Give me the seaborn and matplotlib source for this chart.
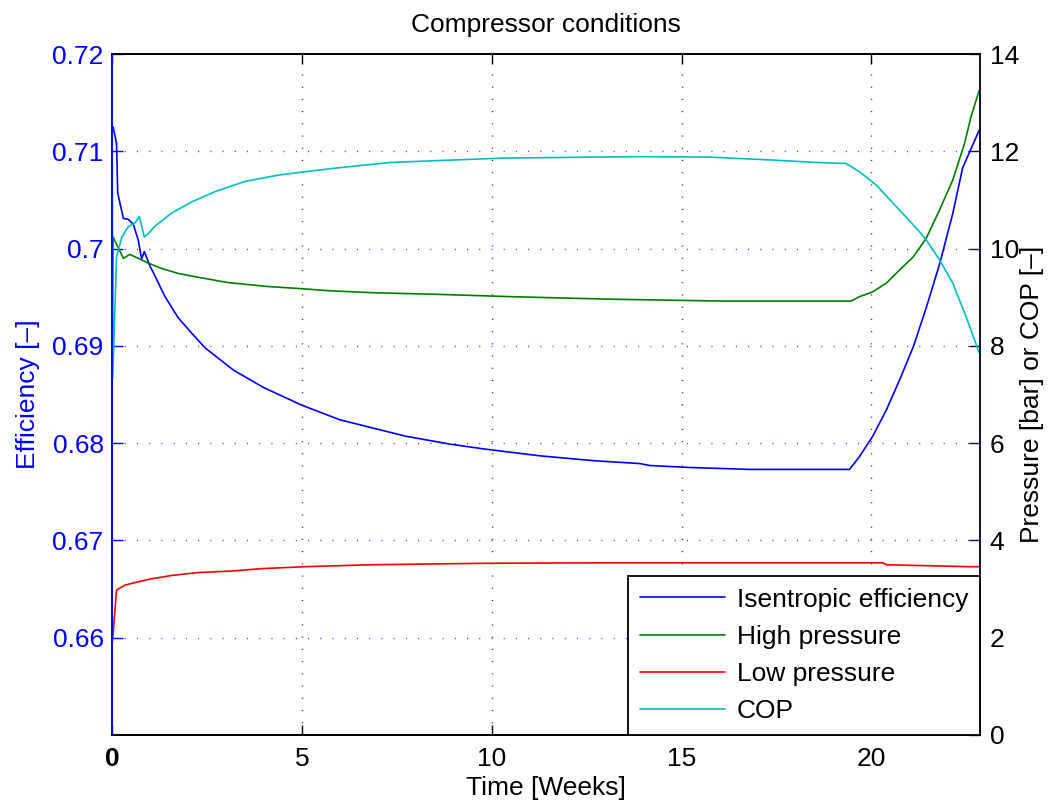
import numpy as np
import pandas as pd
import matplotlib
matplotlib.use("Agg")
import matplotlib.pyplot as plt
import seaborn as sns

# ---------------- data ----------------
eff_t = [0.0, 0.03, 0.12, 0.15, 0.30, 0.43, 0.56, 0.69, 0.78, 0.85, 1.0, 1.13, 1.39, 1.74,
         2.10, 2.45, 3.2, 4.0, 5.0, 6.0, 7.75, 8.9, 9.8, 11.26, 12.67, 13.9, 14.16, 15.2,
         16.8, 19.42, 19.68, 20.03, 20.39, 20.74, 21.1, 21.44, 21.8, 22.14, 22.4, 22.84]
eff_v = [0.7125, 0.7125, 0.7108, 0.7057, 0.7031, 0.7030, 0.7025, 0.7009, 0.6989, 0.6997,
         0.6982, 0.6972, 0.6951, 0.6929, 0.6913, 0.6898, 0.6875, 0.6857, 0.6839, 0.6824,
         0.6807, 0.6799, 0.6794, 0.6787, 0.6782, 0.6779, 0.6777, 0.6775, 0.6773, 0.6773,
         0.6786, 0.6807, 0.6834, 0.6865, 0.6899, 0.6939, 0.6985, 0.7036, 0.7083, 0.7122]

hp_t = [0.0, 0.03, 0.08, 0.17, 0.30, 0.47, 0.69, 0.96, 1.31, 1.74, 2.27, 3.06, 4.11, 4.90,
        5.78, 6.96, 8.54, 10.56, 13.1, 16.09, 19.46, 19.68, 20.03, 20.39, 20.74, 21.1,
        21.44, 21.79, 22.14, 22.45, 22.62, 22.84]
hp_v = [7.3, 10.24, 10.15, 10.01, 9.80, 9.88, 9.80, 9.70, 9.59, 9.49, 9.41, 9.30, 9.22, 9.18,
        9.13, 9.09, 9.06, 9.01, 8.96, 8.92, 8.92, 9.01, 9.11, 9.29, 9.56, 9.83,
        10.21, 10.79, 11.41, 12.16, 12.71, 13.26]

lp_t = [0.0, 0.02, 0.12, 0.34, 0.69, 1.04, 1.57, 2.27, 3.15, 3.94, 5.08, 6.83, 9.82, 12.97,
        20.3, 20.39, 22.58, 22.84]
lp_v = [1.81, 2.0, 2.98, 3.08, 3.15, 3.21, 3.28, 3.34, 3.37, 3.42, 3.46, 3.50, 3.53, 3.54,
        3.54, 3.50, 3.46, 3.46]

cop_t = [0.0, 0.02, 0.12, 0.26, 0.43, 0.61, 0.72, 0.85, 0.96, 1.13, 1.57, 2.10, 2.71, 3.5,
         4.38, 5.08, 5.96, 7.32, 8.63, 10.3, 13.9, 15.74, 17.4, 18.54, 19.33, 19.68, 20.12,
         20.74, 21.26, 21.44, 21.79, 22.14, 22.49, 22.84]
cop_v = [14.6, 7.34, 9.83, 10.24, 10.45, 10.53, 10.66, 10.24, 10.31, 10.46, 10.73, 10.96,
         11.17, 11.38, 11.51, 11.58, 11.66, 11.77, 11.81, 11.86, 11.89, 11.88, 11.82, 11.77,
         11.75, 11.58, 11.31, 10.79, 10.35, 10.18, 9.77, 9.29, 8.60, 7.85]

series_labels = ["Isentropic efficiency", "High pressure", "Low pressure", "COP"]
xticks = [0, 5, 10, 15, 20]
xtick_labels = ["0", "5", "10", "15", "20"]
eff_ticks = [0.66, 0.67, 0.68, 0.69, 0.70, 0.71, 0.72]
eff_tick_labels = ["0.66", "0.67", "0.68", "0.69", "0.7", "0.71", "0.72"]
p_ticks = [0, 2, 4, 6, 8, 10, 12, 14]
p_tick_labels = ["0", "2", "4", "6", "8", "10", "12", "14"]

# ---------------- style ----------------
sns.set_theme(style="white")
plt.rcParams["font.family"] = ["Liberation Sans", "DejaVu Sans"]
plt.rcParams["xtick.direction"] = "in"
plt.rcParams["ytick.direction"] = "in"
plt.rcParams["text.color"] = "black"

FS = 19
BLUE = "#0000ff"
GREEN = "#008000"
RED = "#ff0000"
CYAN = "#00bfbf"
NAVY = "#101040"

fig = plt.figure(figsize=(10.5, 8.05), dpi=100)
ax = fig.add_axes([112 / 1050, 1 - 735 / 805, (980 - 112) / 1050, (735 - 54) / 805])
ax2 = ax.twinx()

df_eff = pd.DataFrame({"t": eff_t, "v": eff_v})
df_hp = pd.DataFrame({"t": hp_t, "v": hp_v})
df_lp = pd.DataFrame({"t": lp_t, "v": lp_v})
df_cop = pd.DataFrame({"t": cop_t, "v": cop_v})

sns.lineplot(data=df_eff, x="t", y="v", ax=ax, color=BLUE, lw=1.2, sort=False,
             estimator=None, legend=False)
sns.lineplot(data=df_hp, x="t", y="v", ax=ax2, color=GREEN, lw=1.2, sort=False,
             estimator=None, legend=False)
sns.lineplot(data=df_lp, x="t", y="v", ax=ax2, color=RED, lw=1.2, sort=False,
             estimator=None, legend=False)
sns.lineplot(data=df_cop, x="t", y="v", ax=ax2, color=CYAN, lw=1.2, sort=False,
             estimator=None, legend=False)

xmax = 160 / 7
ax.set_xlim(0, xmax)
ax.set_ylim(0.65, 0.72)
ax2.set_ylim(0, 14)

ax.set_xticks(xticks)
ax.set_xticklabels(xtick_labels, fontsize=FS, color="black")
ax.get_xticklabels()[0].set_fontweight("bold")
ax.set_yticks(eff_ticks)
ax.set_yticklabels(eff_tick_labels, fontsize=FS, color=BLUE)
ax2.set_yticks(p_ticks)
ax2.set_yticklabels(p_tick_labels, fontsize=FS, color="black")

ax.tick_params(axis="x", which="both", top=True, bottom=True, length=7, width=1,
               color="black", pad=9)
ax.tick_params(axis="y", length=8, width=1, color=BLUE, pad=6)
ax2.tick_params(axis="y", length=8, width=1, color=NAVY, pad=7)

# grid
ax.grid(False)
ax2.grid(False)
for xv in xticks[1:]:
    ax.axvline(xv, color="#333333", lw=1.0, ls=(0, (0.8, 8)), zorder=0)
for yv in eff_ticks[:-1]:
    ax.axhline(yv, color="#4444ff", lw=1.0, ls=(0, (0.8, 8)), zorder=0)

for side in ["top", "bottom", "left", "right"]:
    ax.spines[side].set_visible(True)
    ax2.spines[side].set_visible(True)
ax.spines["left"].set_color(BLUE)
ax.spines["top"].set_color("black")
ax.spines["bottom"].set_color("black")
ax2.spines["right"].set_color(NAVY)
ax2.spines["left"].set_color(BLUE)
ax2.spines["top"].set_color("black")
ax2.spines["bottom"].set_color("black")
for s in ax.spines.values():
    s.set_linewidth(1.3)
for s in ax2.spines.values():
    s.set_linewidth(1.3)

ax.set_xlabel("Time [Weeks]", fontsize=FS, color="black", labelpad=3)
ax.set_ylabel("Efficiency [\u2013]", fontsize=FS, color=BLUE, labelpad=9)
ax2.set_ylabel("Pressure [bar] or COP [\u2013]", fontsize=FS, color="black", labelpad=1)
ax.set_title("Compressor conditions", fontsize=FS, color="black", pad=16)

handles = [ax.get_lines()[0]] + ax2.get_lines()[:3]
leg = ax2.legend(handles, series_labels, loc="lower right", bbox_to_anchor=(1, 0),
                 borderaxespad=0, fontsize=FS, frameon=True, fancybox=False,
                 edgecolor="black", framealpha=1, handlelength=3.2, handletextpad=0.45,
                 labelspacing=0.5, borderpad=0.45, labelcolor="black")
leg.get_frame().set_linewidth(1.3)

fig.savefig("out.png", dpi=100)
